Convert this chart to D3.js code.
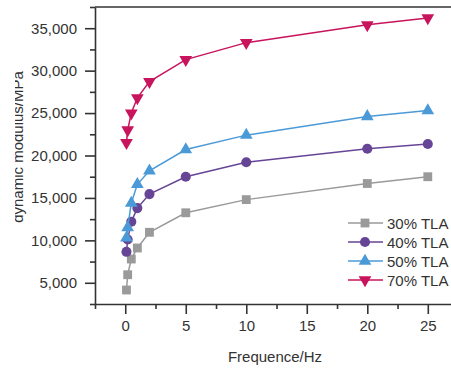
<!DOCTYPE html>
<html>
<head>
<meta charset="utf-8">
<script src="https://cdn.jsdelivr.net/npm/d3@7"></script>
<style>
  body { margin: 0; background: #fff; }
  text { font-family: "Liberation Sans", Arial, sans-serif; fill: #333; }
</style>
</head>
<body>
<div id="chart"></div>
<script>
// Data
const freq = [0.1, 0.2, 0.5, 1, 2, 5, 10, 20, 25];
const tla30 = [4150, 5950, 7800, 9100, 10950, 13250, 14800, 16700, 17500];
const tla40 = [8650, 10100, 12200, 13800, 15450, 17500, 19200, 20800, 21350];
const tla50 = [10300, 11500, 14400, 16600, 18200, 20700, 22400, 24600, 25300];
const tla70 = [21500, 23000, 25000, 26800, 28700, 31300, 33300, 35400, 36200];
const seriesNames = ['30% TLA', '40% TLA', '50% TLA', '70% TLA'];
const xTicks = [0, 5, 10, 15, 20, 25];
const yTicks = [5000, 10000, 15000, 20000, 25000, 30000, 35000];

// Dimensions
const WIDTH = 451;
const HEIGHT = 369;
const PLOT = { LEFT: 95, RIGHT: 452, TOP: 7, BOTTOM: 304 };
const AXIS_COLOR = '#333';

const series = [
  { name: seriesNames[0], values: tla30, color: '#9a9a9a', symbol: d3.symbolSquare, size: 78, rot: 0 },
  { name: seriesNames[1], values: tla40, color: '#664596', symbol: d3.symbolCircle, size: 80, rot: 0 },
  { name: seriesNames[2], values: tla50, color: '#4b9ad8', symbol: d3.symbolTriangle, size: 70, rot: 0 },
  { name: seriesNames[3], values: tla70, color: '#c8145c', symbol: d3.symbolTriangle, size: 70, rot: 180 }
];

const svg = d3
  .select('#chart')
  .append('svg')
  .attr('width', WIDTH)
  .attr('height', HEIGHT);

// Scales
const x = d3.scaleLinear().domain([-2.5, 27]).range([PLOT.LEFT, PLOT.RIGHT]);
const y = d3.scaleLinear().domain([2500, 37500]).range([PLOT.BOTTOM, PLOT.TOP]);

// Minor ticks
const xMinor = d3.range(-2.5, 27.5, 5);
const yMinor = d3.range(2500, 40000, 5000);

function styleAxis(g) {
  g.selectAll('path, line').attr('stroke', AXIS_COLOR).attr('stroke-width', 1.6);
  g.selectAll('text').attr('fill', AXIS_COLOR).style('font-size', '15px');
}

// Top border
svg.append('line')
  .attr('x1', PLOT.LEFT).attr('x2', WIDTH)
  .attr('y1', PLOT.TOP).attr('y2', PLOT.TOP)
  .attr('stroke', AXIS_COLOR).attr('stroke-width', 1.6);

// X axis
svg.append('g')
  .attr('transform', `translate(0, ${PLOT.BOTTOM})`)
  .call(d3.axisBottom(x).tickValues(xMinor).tickSize(5).tickFormat('').tickSizeOuter(0))
  .call(styleAxis);
svg.append('g')
  .attr('transform', `translate(0, ${PLOT.BOTTOM})`)
  .call(d3.axisBottom(x).tickValues(xTicks).tickSize(10).tickPadding(6).tickSizeOuter(0))
  .call(styleAxis)
  .call((g) => g.select('.domain').remove());

// Y axis
svg.append('g')
  .attr('transform', `translate(${PLOT.LEFT}, 0)`)
  .call(d3.axisLeft(y).tickValues(yMinor).tickSize(5).tickFormat('').tickSizeOuter(0))
  .call(styleAxis);
svg.append('g')
  .attr('transform', `translate(${PLOT.LEFT}, 0)`)
  .call(d3.axisLeft(y).tickValues(yTicks).tickSize(10).tickPadding(8).tickFormat(d3.format(',')))
  .call(styleAxis)
  .call((g) => g.select('.domain').remove());

// Axis titles
svg.append('text')
  .attr('x', (PLOT.LEFT + WIDTH) / 2 + 2)
  .attr('y', 362)
  .attr('text-anchor', 'middle')
  .style('font-size', '15px')
  .text('Frequence/Hz');

// y title is cut along its top edge in the original
svg.append('clipPath')
  .attr('id', 'ytitle-clip')
  .append('rect')
  .attr('x', 15).attr('y', 0)
  .attr('width', 40).attr('height', HEIGHT);

svg.append('g')
  .attr('clip-path', 'url(#ytitle-clip)')
  .append('text')
  .attr('transform', `translate(23, 147) rotate(-90)`)
  .attr('text-anchor', 'middle')
  .style('font-size', '15px')
  .text('dynamic modulus/MPa');

// Lines and markers
const line = d3.line()
  .x((d, i) => x(freq[i]))
  .y((d) => y(d));

series.forEach((s) => {
  svg.append('path')
    .datum(s.values)
    .attr('fill', 'none')
    .attr('stroke', s.color)
    .attr('stroke-width', 1.5)
    .attr('d', line);

  svg.selectAll(null)
    .data(s.values)
    .enter()
    .append('path')
    .attr('d', d3.symbol().type(s.symbol).size(s.size))
    .attr('transform', (d, i) => `translate(${x(freq[i])}, ${y(d)}) rotate(${s.rot})`)
    .attr('fill', s.color);
});

// Legend
const legend = svg.append('g').attr('transform', 'translate(348, 223)');
series.forEach((s, i) => {
  const row = legend.append('g').attr('transform', `translate(0, ${i * 19})`);
  row.append('line')
    .attr('x1', 0).attr('x2', 35)
    .attr('stroke', s.color).attr('stroke-width', 1.5);
  row.append('path')
    .attr('d', d3.symbol().type(s.symbol).size(s.size))
    .attr('transform', `translate(17, 0) rotate(${s.rot})`)
    .attr('fill', s.color);
  row.append('text')
    .attr('x', 39)
    .attr('y', 5.5)
    .style('font-size', '15px')
    .text(s.name);
});
</script>
</body>
</html>
